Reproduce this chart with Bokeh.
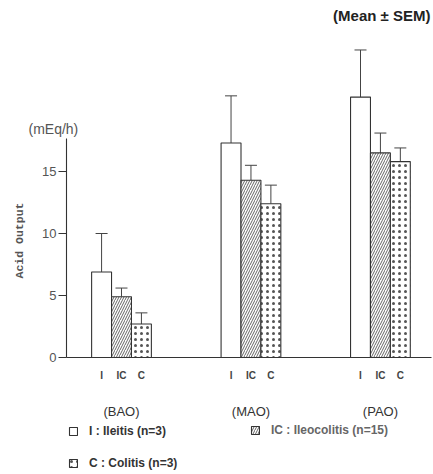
import math
from bokeh.plotting import figure
from bokeh.models import (ColumnDataSource, Whisker, TeeHead, FixedTicker, LinearAxis,
                          Range1d, Legend, LegendItem, Label)
from bokeh.embed import file_html
from bokeh.resources import INLINE

# ---- data ----
groups = ["BAO", "MAO", "PAO"]
group_labels = ["(BAO)", "(MAO)", "(PAO)"]
series = ["I", "IC", "C"]
means_I = [6.9, 17.3, 21.0]
sem_I = [3.1, 3.8, 3.8]
means_IC = [4.9, 14.3, 16.5]
sem_IC = [0.7, 1.2, 1.6]
means_C = [2.7, 12.4, 15.8]
sem_C = [0.9, 1.5, 1.1]
y_ticks = [0, 5, 10, 15]
legend_labels = ["I : Ileitis (n=3)", "IC : Ileocolitis (n=15)", "C : Colitis (n=3)"]

# ---- layout constants ----
GROUP_STEP = 13
BAR_W = 2
offsets = [-2, 0, 2]
FONT = "Liberation Sans"
INK = "#333333"
W, H = 433, 474
X_AXIS_AT = -5.52     # x-position (data) of the value axis
Y_AXIS_TOP = 17.7

p = figure(width=W, height=H, output_backend="svg", toolbar_location=None,
           x_range=Range1d(-12.15, 31.33), y_range=Range1d(-9.435, 28.79),
           min_border=0, min_border_left=0, min_border_right=0,
           min_border_top=0, min_border_bottom=0)
p.outline_line_color = None
p.grid.visible = False
p.background_fill_color = "white"
p.border_fill_color = "white"

group_pos = [i * GROUP_STEP for i in range(len(groups))]

def src(off, means, sems):
    xs = [g + off for g in group_pos]
    return ColumnDataSource(dict(x=xs, top=means, upper=[m + s for m, s in zip(means, sems)]))

s_I = src(offsets[0], means_I, sem_I)
s_IC = src(offsets[1], means_IC, sem_IC)
s_C = src(offsets[2], means_C, sem_C)

r_I = p.vbar(x="x", top="top", bottom=0, width=BAR_W, source=s_I,
             fill_color="white", line_color=INK, line_width=1.1)
r_IC = p.vbar(x="x", top="top", bottom=0, width=BAR_W, source=s_IC,
              fill_color="white", line_color=INK, line_width=1.1,
              hatch_pattern="/", hatch_color="#555555", hatch_scale=5, hatch_weight=0.9)
r_C = p.vbar(x="x", top="top", bottom=0, width=BAR_W, source=s_C,
             fill_color="white", line_color=INK, line_width=1.1,
             hatch_pattern=".", hatch_color="#555555", hatch_scale=6, hatch_weight=1.6)

for s in (s_I, s_IC, s_C):
    w = Whisker(base="x", lower="top", upper="upper", source=s,
                line_color="#444444", line_width=1,
                upper_head=TeeHead(size=12, line_color="#444444", line_width=1),
                lower_head=None)
    p.add_layout(w)

# ---- y axis ----
ya = p.yaxis[0]
ya.fixed_location = X_AXIS_AT
ya.ticker = FixedTicker(ticks=y_ticks)
ya.bounds = (0, Y_AXIS_TOP)
ya.minor_tick_line_color = None
ya.major_tick_in = 0
ya.major_tick_out = 8
ya.axis_line_color = INK
ya.axis_line_width = 1.1
ya.major_tick_line_color = INK
ya.major_label_text_font = FONT
ya.major_label_text_font_size = "13px"
ya.major_label_text_color = "#555555"
ya.major_label_standoff = 2

# ---- x axis (series labels) ----
xa = p.xaxis[0]
xa.fixed_location = 0
xa.bounds = (X_AXIS_AT, 31.1)
bar_ticks = []
bar_labels = {}
for g in group_pos:
    for off, name in zip(offsets, series):
        bar_ticks.append(g + off)
        bar_labels[g + off] = name
xa.ticker = FixedTicker(ticks=bar_ticks)
xa.major_label_overrides = bar_labels
xa.minor_tick_line_color = None
xa.major_tick_line_color = None
xa.major_tick_in = 0
xa.major_tick_out = 0
xa.axis_line_color = INK
xa.axis_line_width = 1.1
xa.major_label_text_font = FONT
xa.major_label_text_font_size = "10px"
xa.major_label_text_font_style = "bold"
xa.major_label_text_color = "#444444"
xa.major_label_standoff = 12

# ---- x axis (group labels) ----
xg = LinearAxis(ticker=FixedTicker(ticks=group_pos), fixed_location=0,
                major_label_overrides={g: l for g, l in zip(group_pos, group_labels)})
xg.axis_line_color = None
xg.major_tick_line_color = None
xg.minor_tick_line_color = None
xg.major_tick_in = 0
xg.major_tick_out = 0
xg.major_label_text_font = FONT
xg.major_label_text_font_size = "13px"
xg.major_label_text_color = "#333333"
xg.major_label_standoff = 46
p.add_layout(xg, "below")

# ---- annotations (screen units, frame == canvas) ----
p.add_layout(Label(x=28, y=H - 128, x_units="screen", y_units="screen", text="(mEq/h)",
                   text_font=FONT, text_font_size="14px", text_color="#555555",
                   text_baseline="middle"))
p.add_layout(Label(x=19, y=H - 240, x_units="screen", y_units="screen", text="Acid Output",
                   angle=math.pi / 2, text_align="center", text_baseline="middle",
                   text_font="Liberation Mono", text_font_size="11.5px",
                   text_font_style="bold", text_color="#555555"))
p.add_layout(Label(x=430, y=H - 15, x_units="screen", y_units="screen",
                   text="(Mean \u00b1 SEM)",
                   text_font=FONT, text_font_size="15px", text_font_style="bold",
                   text_color="#222222", text_baseline="middle", text_align="right"))

# ---- legends ----
def make_legend(items, loc, color, spacing=18):
    lg = Legend(items=items, location=loc, orientation="vertical",
                glyph_width=10, glyph_height=10, label_standoff=11,
                label_text_font=FONT, label_text_font_size="12px",
                label_text_font_style="bold",
                label_text_color=color, label_height=10, spacing=spacing,
                padding=0, margin=0, border_line_color=None,
                background_fill_alpha=0)
    p.add_layout(lg)

make_legend([LegendItem(label=legend_labels[0], renderers=[r_I]),
             LegendItem(label=legend_labels[2], renderers=[r_C])], (68, 4), "#333333")
make_legend([LegendItem(label=legend_labels[1], renderers=[r_IC])], (250, 37), "#666666")

open("out.html", "w").write(file_html(p, INLINE))
